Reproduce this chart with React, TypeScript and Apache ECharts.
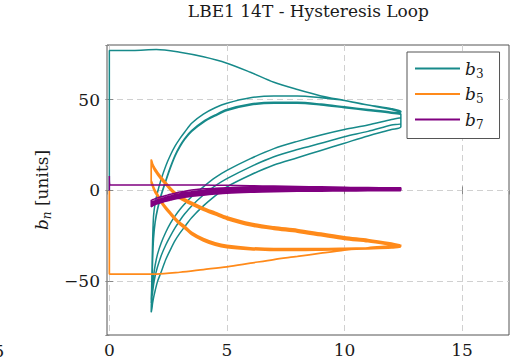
import React, { useEffect, useRef } from "react";
import * as echarts from "echarts";

// ---------- data ----------
const seriesNames = ["b3", "b5", "b7"];
const seriesColors = ["#178a8a", "#ff8a1a", "#800080"];

// current (x) grids
const virginX = [0, 0, 0.05, 1, 2, 3, 4, 5, 6, 7, 8, 9, 10, 11, 12, 12.4];
const downX = [12.4, 12, 11, 10, 9, 8, 7, 6, 5, 4.5, 4, 3.5, 3.2, 3, 2.8, 2.6, 2.4, 2.2, 2.05, 1.95, 1.88, 1.84, 1.81, 1.78];
const upX = [1.78, 1.81, 1.84, 1.88, 1.95, 2.05, 2.2, 2.4, 2.6, 2.8, 3, 3.2, 3.5, 4, 4.5, 5, 6, 7, 8, 9, 10, 11, 12, 12.4];

// b3
const b3Virgin = [0, 77, 77, 77, 77.5, 76, 73.5, 70, 65, 59.5, 55.5, 52, 49.5, 47, 45, 43.5];
const b3Down1 = [43, 44.5, 47, 49.5, 51, 52, 52, 51, 48, 45.5, 42, 37, 32, 28.5, 24.5, 19.5, 13.5, 6, -1, -7, -14, -28, -46, -67];
const b3Up1 = [-67, -65, -62, -59, -55, -50, -45, -38, -32.5, -27.5, -23.5, -20, -15, -8.5, -3, 2, 8.5, 14, 18, 22, 26, 30, 33.5, 35];
const b3Down2 = [42, 43, 44.5, 46, 47.5, 48.5, 48.5, 47.5, 44.5, 41.5, 38, 33, 28.5, 24.5, 19.5, 13, 5.5, -2.5, -10, -17, -26, -38, -51, -62];
const b3Up2 = [-62, -59, -56, -52, -47, -42, -36, -30, -25, -20.5, -16.5, -13, -8.5, -2.5, 2.5, 6.5, 13, 18.5, 22.5, 26, 29.5, 32.5, 36, 37];
const b3Down3 = [41.5, 42.5, 44, 45.5, 47, 48, 48, 47, 44, 41, 37.5, 32.5, 28, 24, 19, 12.5, 5, -3, -10.5, -17.5, -26.5, -38.5, -51, -60];
const b3Up3 = [-60, -56, -52, -47, -41, -35, -29, -23, -18, -14, -10.5, -7.5, -3.5, 2, 7, 11, 17.5, 23, 27, 30.5, 33.5, 36, 39, 40];

// b5
const b5Virgin = [0, -46, -46, -46, -46, -45, -43.5, -42, -40, -38, -36.3, -34.5, -32.8, -31.5, -30.5, -30];
const b5Down1 = [-30, -29, -27, -25.5, -23.5, -21.5, -20, -18, -14.5, -12, -9.5, -6.5, -4.5, -3, -1, 1.5, 4.5, 7.5, 10, 12, 13.5, 14.8, 16, 17];
const b5Up1 = [5.5, 4.5, 3.5, 2, 0, -2, -5.5, -9, -12, -15, -17.5, -19.5, -23, -26.5, -28.8, -30.2, -31.5, -32, -32, -32, -31.8, -31.5, -31, -30.5];
const b5Down2 = [-30.3, -29.5, -27.6, -26.2, -24.2, -22.2, -20.7, -18.7, -15.2, -12.7, -10.2, -7.2, -5.2, -3.7, -1.7, 0.8, 3.8, 6.8, 9.3, 11.3, 12.8, 14.1, 15.3, 16.3];
const b5Up2 = [4.8, 3.8, 2.8, 1.3, -0.7, -2.7, -6.2, -9.7, -12.7, -15.7, -18.2, -20.2, -23.7, -27.2, -29.5, -30.8, -32, -32.5, -32.5, -32.4, -32.2, -31.8, -31.3, -30.8];
const b5Down3 = [-30.6, -30, -28.2, -26.9, -24.9, -22.9, -21.4, -19.4, -15.9, -13.4, -10.9, -7.9, -5.9, -4.4, -2.4, 0.1, 3.1, 6.1, 8.6, 10.6, 12.1, 13.4, 14.6, 15.6];
const b5Up3 = [4.2, 3.2, 2.2, 0.7, -1.3, -3.3, -6.8, -10.3, -13.3, -16.3, -18.8, -20.8, -24.3, -27.8, -30.1, -31.4, -32.5, -33, -33, -32.8, -32.5, -32.1, -31.6, -31];

// b7
const b7Virgin = [0, 8, 3, 3, 3, 3, 3, 2.8, 2.6, 2.4, 2.2, 2, 1.7, 1.4, 1.1, 1];
const b7Down1 = [1.5, 1.5, 1.6, 1.7, 1.8, 1.9, 1.9, 1.9, 1.5, 1.2, 0.9, 0.2, -0.4, -0.9, -1.5, -2.1, -2.8, -3.5, -4.1, -4.5, -4.9, -5.1, -5.3, -5.4];
const b7Up1 = [-7.4, -7.2, -7, -6.8, -6.4, -6, -5.4, -4.7, -4.1, -3.6, -3.2, -2.8, -2.1, -1.3, -0.8, -0.4, 0, 0.2, 0.3, 0.4, 0.4, 0.4, 0.4, 0.4];
const b7Down2 = [1.1, 1.1, 1.1, 1.2, 1.2, 1.3, 1.2, 1.1, 0.8, 0.4, 0, -0.7, -1.3, -1.8, -2.4, -3, -3.7, -4.5, -5.1, -5.6, -6, -6.2, -6.4, -6.5];
const b7Up2 = [-8.2, -8, -7.8, -7.5, -7.1, -6.6, -6, -5.3, -4.7, -4.1, -3.7, -3.3, -2.6, -1.9, -1.3, -0.9, -0.5, -0.2, -0.1, 0, 0, 0.1, 0.1, 0.1];
const b7Down3 = [0.7, 0.7, 0.7, 0.7, 0.7, 0.7, 0.6, 0.5, 0.2, -0.2, -0.6, -1.3, -1.9, -2.4, -3, -3.6, -4.3, -5, -5.6, -6.1, -6.5, -6.7, -6.9, -7];
const b7Up3 = [-9, -8.8, -8.5, -8.2, -7.8, -7.3, -6.7, -5.9, -5.3, -4.7, -4.3, -3.8, -3.2, -2.6, -2, -1.5, -1, -0.7, -0.5, -0.4, -0.3, -0.2, -0.2, -0.2];

const xTickLabelsOutside = [-5];

// ---------- helpers ----------
const branch = (xs: number[], ys: number[]) => xs.map((x, i) => [x, ys[i]]);
const trace = (v: number[], d1: number[], u1: number[], d2: number[], u2: number[], d3: number[], u3: number[]) => [
  ...branch(virginX, v),
  ...branch(downX, d1),
  ...branch(upX, u1),
  ...branch(downX, d2),
  ...branch(upX, u2),
  ...branch(downX, d3),
  ...branch(upX, u3),
];

const FONT = "DejaVu Serif";
const TXT = "#1a1a1a";
const fmtNum = (v: number) => (v < 0 ? "\u2212" + Math.abs(v) : String(v));

export default function App() {
  const ref = useRef<HTMLDivElement>(null);
  useEffect(() => {
    const chart = echarts.init(ref.current!, null, { renderer: "svg" });
    const traces = [
      trace(b3Virgin, b3Down1, b3Up1, b3Down2, b3Up2, b3Down3, b3Up3),
      trace(b5Virgin, b5Down1, b5Up1, b5Down2, b5Up2, b5Down3, b5Up3),
      trace(b7Virgin, b7Down1, b7Up1, b7Down2, b7Up2, b7Down3, b7Up3),
    ];
    const tick = { show: true, inside: true, length: 4, lineStyle: { color: "#888" } };
    const option: any = {
      animation: false,
      backgroundColor: "#fff",
      title: {
        text: "LBE1 14T - Hysteresis Loop",
        left: 308.4,
        top: 2,
        padding: 0,
        textAlign: "center",
        textStyle: { fontFamily: FONT, fontSize: 17, fontWeight: "normal", color: TXT },
      },
      grid: { left: 107, right: 12, top: 45, bottom: 26, show: true, borderColor: "#555", borderWidth: 1 },
      xAxis: [
        {
          type: "value", min: -0.1, max: 17, splitNumber: 3, position: "bottom",
          axisLine: { show: false }, axisTick: tick,
          axisLabel: { showMinLabel: false, showMaxLabel: false, margin: 6, color: TXT, fontFamily: FONT, fontSize: 17, formatter: fmtNum },
          splitLine: { show: true, showMinLine: false, showMaxLine: false, lineStyle: { color: "#d0d0d0", type: [6, 4], width: 1 } },
        },
        {
          type: "value", min: -0.1, max: 17, splitNumber: 3, position: "top",
          axisLine: { show: false }, axisTick: tick, axisLabel: { show: false }, splitLine: { show: false },
        },
      ],
      yAxis: [
        {
          type: "value", min: -79.5, max: 80, splitNumber: 3, position: "left",
          axisLine: { show: false }, axisTick: tick,
          axisLabel: { showMinLabel: false, showMaxLabel: false, margin: 7, color: TXT, fontFamily: FONT, fontSize: 17, formatter: fmtNum },
          splitLine: { show: true, showMinLine: false, showMaxLine: false, lineStyle: { color: "#d0d0d0", type: [6, 4], width: 1 } },
          name: "{b|b}{s|n} [units]",
          nameLocation: "middle",
          nameGap: 52,
          nameTextStyle: {
            fontFamily: FONT, fontSize: 17, color: TXT, lineHeight: 22,
            rich: {
              b: { fontFamily: FONT, fontStyle: "italic", fontSize: 17, color: TXT, lineHeight: 22 },
              s: { fontFamily: FONT, fontStyle: "italic", fontSize: 12, color: TXT, lineHeight: 12, verticalAlign: "bottom" },
            },
          },
        },
        {
          type: "value", min: -79.5, max: 80, splitNumber: 3, position: "right",
          axisLine: { show: false }, axisTick: tick, axisLabel: { show: false }, splitLine: { show: false },
        },
      ],
      legend: {
        orient: "vertical", left: 407, top: 52, padding: [8, 16, 8, 8], itemGap: 6,
        itemWidth: 45, itemHeight: 2, icon: "rect",
        borderColor: "#555", borderWidth: 1, borderRadius: 0, backgroundColor: "#fff",
        data: seriesNames,
        formatter: (name: string) => `{b|b}{s|${name.slice(1)}}`,
        textStyle: {
          fontFamily: FONT, color: TXT,
          rich: {
            b: { fontFamily: FONT, fontStyle: "italic", fontSize: 17, color: TXT, lineHeight: 22 },
            s: { fontFamily: FONT, fontSize: 12, color: TXT, lineHeight: 12, verticalAlign: "bottom" },
          },
        },
      },
      series: seriesNames.map((n, i) => ({
        name: n,
        type: "line",
        xAxisIndex: 0,
        yAxisIndex: 0,
        data: traces[i],
        showSymbol: false,
        symbol: "none",
        smooth: 0.3,
        color: seriesColors[i],
        lineStyle: { color: seriesColors[i], width: i === 1 ? 1.7 : 1.5 },
        z: 2 + i,
      })),
    };
    chart.setOption(option);
    const baseY = 351;
    chart.setOption({
      graphic: xTickLabelsOutside.map((v) => ({
        type: "text",
        x: chart.convertToPixel({ xAxisIndex: 0 }, v) as number,
        y: baseY,
        style: { text: fmtNum(v), align: "center", verticalAlign: "middle", fontFamily: FONT, fontSize: 17, fill: TXT },
      })),
    });
    return () => chart.dispose();
  }, []);
  return <div ref={ref} style={{ position: "fixed", left: 0, top: 0, width: 521, height: 361, background: "#fff" }} />;
}
